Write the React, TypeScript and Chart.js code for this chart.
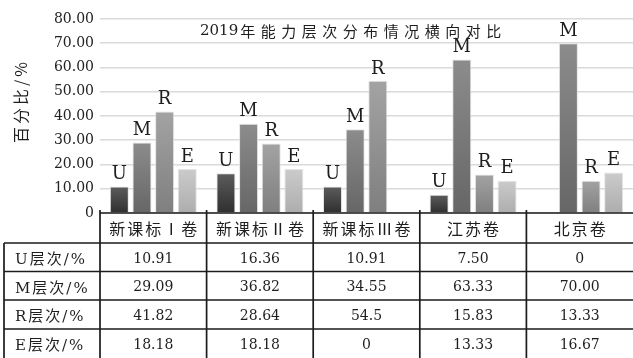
import React, { useEffect, useRef } from "react";
import { Chart, registerables } from "chart.js";

Chart.register(...registerables);

const categories = ["新课标Ⅰ卷", "新课标Ⅱ卷", "新课标Ⅲ卷", "江苏卷", "北京卷"];
const seriesNames = ["U", "M", "R", "E"];
const rowLabels = ["U层次/%", "M层次/%", "R层次/%", "E层次/%"];
const uText = ["10.91", "16.36", "10.91", "7.50", "0"];
const mText = ["29.09", "36.82", "34.55", "63.33", "70.00"];
const rText = ["41.82", "28.64", "54.5", "15.83", "13.33"];
const eText = ["18.18", "18.18", "0", "13.33", "16.67"];
const yTicks = [0, 10, 20, 30, 40, 50, 60, 70, 80];
const chartTitle = "2019年能力层次分布情况横向对比";
const yTitle = "百分比/%";

const seriesText = [uText, mText, rText, eText];
const gradients = [
  ["#5c5c5c", "#2f2f2f"],
  ["#8c8c8c", "#666666"],
  ["#a3a3a3", "#7f7f7f"],
  ["#cbcbcb", "#adadad"],
];

const SERIF = '"DejaVu Serif", "Noto Sans CJK SC", serif';

const tablePlugin = {
  id: "tablePlugin",
  afterDraw(chart: any) {
    const ctx = chart.ctx;
    const xs = chart.scales.x;
    const area = chart.chartArea;
    const n = categories.length;
    const cw = (xs.right - xs.left) / n;
    const bounds: number[] = [];
    for (let i = 0; i <= n; i++) bounds.push(xs.left + i * cw);
    const rows = [area.bottom, 243, 271.5, 300, 329, 358];
    const leftX = 4;
    ctx.save();
    ctx.strokeStyle = "#1c1c1c";
    ctx.lineWidth = 1.7;
    ctx.beginPath();
    ctx.moveTo(area.left, rows[0]);
    ctx.lineTo(chart.width, rows[0]);
    for (let r = 1; r < rows.length - 1; r++) {
      ctx.moveTo(leftX, rows[r]);
      ctx.lineTo(chart.width, rows[r]);
    }
    ctx.moveTo(leftX, rows[1]);
    ctx.lineTo(leftX, 360);
    for (let i = 0; i < n; i++) {
      ctx.moveTo(bounds[i], rows[0] - 3);
      ctx.lineTo(bounds[i], 360);
    }
    ctx.stroke();

    ctx.fillStyle = "#1e1e1e";
    ctx.textBaseline = "middle";
    // header
    ctx.font = '16px "Noto Sans CJK SC", sans-serif';
    ctx.textAlign = "center";
    (ctx as any).letterSpacing = "2px";
    for (let i = 0; i < n; i++) {
      const cx = xs.getPixelForValue(i);
      ctx.fillText(categories[i], cx + 1, (rows[0] + rows[1]) / 2 + 1);
    }
    // row labels
    ctx.font = "15px " + SERIF;
    ctx.textAlign = "left";
    (ctx as any).letterSpacing = "2px";
    for (let r = 0; r < rowLabels.length; r++) {
      ctx.fillText(rowLabels[r], 15, (rows[r + 1] + rows[r + 2]) / 2 + 3);
    }
    // values
    (ctx as any).letterSpacing = "0px";
    ctx.font = "14px " + SERIF;
    ctx.textAlign = "center";
    for (let r = 0; r < seriesText.length; r++) {
      for (let i = 0; i < n; i++) {
        const cx = xs.getPixelForValue(i);
        ctx.fillText(seriesText[r][i], cx, (rows[r + 1] + rows[r + 2]) / 2 + 2);
      }
    }

    // bar letters
    ctx.font = "18px " + SERIF;
    ctx.textAlign = "center";
    ctx.textBaseline = "bottom";
    chart.data.datasets.forEach((ds: any, di: number) => {
      const meta = chart.getDatasetMeta(di);
      meta.data.forEach((el: any, i: number) => {
        if (ds.data[i] > 0) {
          ctx.fillText(seriesNames[di], el.x, el.y - 3);
        }
      });
    });

    // chart title
    ctx.textBaseline = "middle";
    ctx.textAlign = "left";
    ctx.font = "15px " + SERIF;
    const digits = chartTitle.slice(0, 4);
    const rest = Array.from(chartTitle.slice(4));
    ctx.fillText(digits, 200, 31);
    const dw = ctx.measureText(digits).width;
    ctx.font = '15px "Noto Sans CJK SC", sans-serif';
    rest.forEach((ch, i) => {
      ctx.fillText(ch, 200 + dw + 2 + i * 20.5, 31);
    });

    // y title
    ctx.save();
    ctx.translate(21, 101);
    ctx.rotate(-Math.PI / 2);
    ctx.textAlign = "center";
    ctx.font = '16px "Noto Sans CJK SC", sans-serif';
    (ctx as any).letterSpacing = "3px";
    ctx.fillText(yTitle, 0, 0);
    ctx.restore();

    ctx.restore();
  },
};

export default function App() {
  const ref = useRef<HTMLCanvasElement | null>(null);
  useEffect(() => {
    document.body.style.margin = "0";
    const canvas = ref.current;
    if (!canvas) return;
    const datasets = seriesNames.map((name, si) => ({
      label: name,
      data: seriesText[si].map((s) => parseFloat(s)),
      backgroundColor: (c: any) => {
        const chart = c.chart;
        const area = chart.chartArea;
        if (!area || c.type !== "data") return gradients[si][0];
        const ys = chart.scales.y;
        const v = c.parsed ? c.parsed.y : c.raw;
        const top = ys.getPixelForValue(v);
        const bottom = ys.getPixelForValue(0);
        if (!(bottom - top > 1)) return gradients[si][0];
        const g = chart.ctx.createLinearGradient(0, top, 0, bottom);
        g.addColorStop(0, gradients[si][0]);
        g.addColorStop(1, gradients[si][1]);
        return g;
      },
      borderColor: "rgba(225,225,225,0.9)",
      borderWidth: 1,
      categoryPercentage: 0.85,
      barPercentage: 0.84,
    }));
    const chart = new Chart(canvas, {
      type: "bar",
      data: { labels: categories, datasets },
      options: {
        animation: false,
        responsive: false,
        layout: { padding: { top: 19, bottom: 145, left: 0, right: -2 } },
        plugins: {
          legend: { display: false },
          title: { display: false },
          tooltip: { enabled: false },
        },
        scales: {
          x: { display: false },
          y: {
            min: 0,
            max: 80,
            afterFit: (s: any) => {
              s.width = 100;
            },
            afterBuildTicks: (s: any) => {
              s.ticks = yTicks.map((v) => ({ value: v }));
            },
            border: { display: false },
            grid: {
              color: "#dadada",
              lineWidth: 1.6,
              drawTicks: false,
            },
            ticks: {
              padding: 6,
              color: "#222",
              font: { family: '"DejaVu Serif", serif', size: 14 },
              callback: (v: any) => (Number(v) === 0 ? "0" : Number(v).toFixed(2)),
            },
          },
        },
      },
      plugins: [tablePlugin],
    });
    return () => chart.destroy();
  }, []);
  return (
    <div style={{ width: 633, height: 358, background: "#fff" }}>
      <canvas ref={ref} width={633} height={358} />
    </div>
  );
}
